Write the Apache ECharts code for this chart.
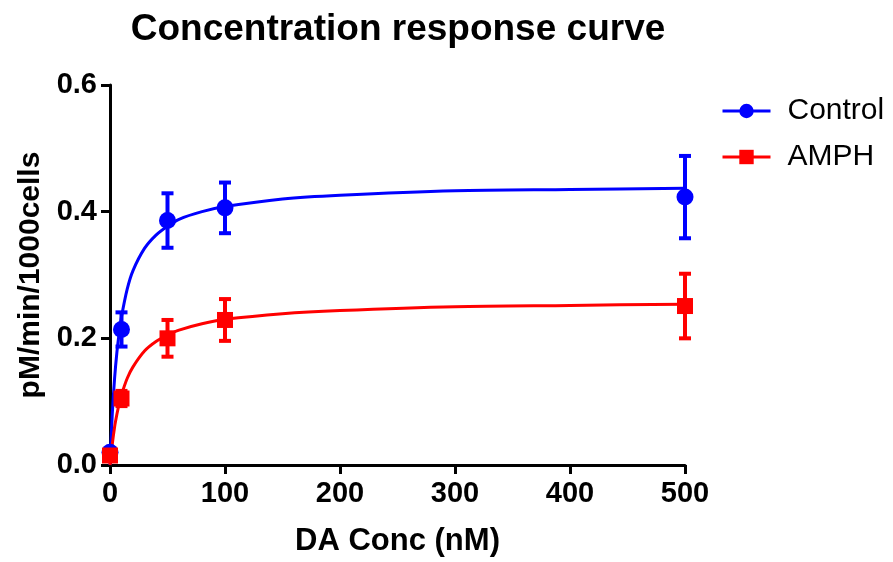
<!DOCTYPE html>
<html>
<head>
<meta charset="utf-8">
<script src="https://cdn.jsdelivr.net/npm/echarts@6/dist/echarts.min.js"></script>
<style>html,body{margin:0;padding:0;background:#fff}#c{width:893px;height:562px}</style>
</head>
<body>
<div id="c"></div>
<script>
// Measured points (DA concentration, nM)
var ctrlX = [0, 10, 50, 100, 500];
var ctrlY = [0.02, 0.214, 0.386, 0.406, 0.423];
var ctrlErr = [0.004, 0.027, 0.043, 0.040, 0.065];

var amphX = [0, 10, 50, 100, 500];
var amphY = [0.015, 0.105, 0.200, 0.229, 0.251];
var amphErr = [0.004, 0.012, 0.029, 0.033, 0.051];

// Fitted curves
var curveX = [0, 2, 4, 6, 8, 10, 15, 20, 30, 40, 50, 60, 80, 100, 150, 200, 300, 400, 500];
var ctrlCurve = [0.0, 0.081, 0.137, 0.178, 0.209, 0.234, 0.278, 0.307, 0.342, 0.363, 0.377, 0.388, 0.400, 0.408, 0.420, 0.426, 0.433, 0.435, 0.437];
var amphCurve = [0.0, 0.033, 0.060, 0.080, 0.097, 0.111, 0.137, 0.155, 0.180, 0.195, 0.205, 0.213, 0.223, 0.230, 0.239, 0.244, 0.250, 0.252, 0.254];

var xTicks = [0, 100, 200, 300, 400, 500];
var yTicks = [0.0, 0.2, 0.4, 0.6];

var BLUE = '#0000FF', RED = '#FF0000';
var FONT = '"Liberation Sans", Arial, sans-serif';

function pairs(xs, ys) { return xs.map(function (x, i) { return [x, ys[i]]; }); }
function errData(xs, ys, es) { return xs.map(function (x, i) { return [x, ys[i] - es[i], ys[i] + es[i]]; }); }

function errRender(color) {
  return function (params, api) {
    var x = api.value(0);
    var lo = api.coord([x, api.value(1)]);
    var hi = api.coord([x, api.value(2)]);
    var hw = 6;
    var st = { stroke: color, lineWidth: 4 };
    return {
      type: 'group',
      children: [
        { type: 'line', shape: { x1: lo[0], y1: lo[1], x2: hi[0], y2: hi[1] }, style: st },
        { type: 'line', shape: { x1: lo[0] - hw, y1: lo[1], x2: lo[0] + hw, y2: lo[1] }, style: st },
        { type: 'line', shape: { x1: hi[0] - hw, y1: hi[1], x2: hi[0] + hw, y2: hi[1] }, style: st }
      ]
    };
  };
}

var chart = echarts.init(document.getElementById('c'));
chart.setOption({
  animation: false,
  backgroundColor: '#fff',
  title: {
    text: 'Concentration response curve',
    left: 393, top: 6, textAlign: 'center',
    textStyle: { fontFamily: FONT, fontWeight: 'bold', fontSize: 37, color: '#000' }
  },
  legend: {
    orient: 'vertical', left: 716, top: 91,
    itemWidth: 48, itemHeight: 18, itemGap: 16,
    data: ['Control', 'AMPH'],
    lineStyle: { width: 3 },
    textStyle: { fontFamily: FONT, fontSize: 30, color: '#000', padding: [0, 0, 0, 12] }
  },
  grid: { left: 110, right: 208, top: 85, bottom: 94 },
  xAxis: {
    type: 'value', min: 0, max: 500, interval: 100,
    name: 'DA Conc (nM)', nameLocation: 'middle', nameGap: 61,
    nameTextStyle: { fontFamily: FONT, fontWeight: 'bold', fontSize: 31, color: '#000' },
    axisLine: { show: true, lineStyle: { color: '#000', width: 3 } },
    axisTick: { show: true, length: 9, lineStyle: { color: '#000', width: 3 } },
    axisLabel: { margin: 14, fontFamily: FONT, fontWeight: 'bold', fontSize: 29, color: '#000',
      formatter: function (v) { return xTicks.indexOf(v) >= 0 ? String(v) : ''; } },
    splitLine: { show: false }
  },
  yAxis: {
    type: 'value', min: 0, max: 0.6, interval: 0.2,
    name: 'pM/min/1000cells', nameLocation: 'middle', nameGap: 64,
    nameTextStyle: { fontFamily: FONT, fontWeight: 'bold', fontSize: 30, color: '#000' },
    axisLine: { show: true, lineStyle: { color: '#000', width: 3 } },
    axisTick: { show: true, length: 9, lineStyle: { color: '#000', width: 3 } },
    axisLabel: { margin: 13, fontFamily: FONT, fontWeight: 'bold', fontSize: 29, color: '#000',
      formatter: function (v) { return v.toFixed(1); } },
    splitLine: { show: false }
  },
  series: [
    { name: 'Control', type: 'line', data: pairs(curveX, ctrlCurve), smooth: 0.3,
      symbol: 'circle', symbolSize: 16, showSymbol: false,
      lineStyle: { color: BLUE, width: 3 }, itemStyle: { color: BLUE }, z: 3 },
    { name: 'AMPH', type: 'line', data: pairs(curveX, amphCurve), smooth: 0.3,
      symbol: 'rect', symbolSize: 16, showSymbol: false,
      lineStyle: { color: RED, width: 3 }, itemStyle: { color: RED }, z: 3 },
    { name: 'Control', type: 'custom', renderItem: errRender(BLUE),
      data: errData(ctrlX, ctrlY, ctrlErr), encode: { x: 0, y: [1, 2] }, z: 4 },
    { name: 'AMPH', type: 'custom', renderItem: errRender(RED),
      data: errData(amphX, amphY, amphErr), encode: { x: 0, y: [1, 2] }, z: 4 },
    { name: 'Control', type: 'scatter', data: pairs(ctrlX, ctrlY), symbol: 'circle', symbolSize: 17,
      itemStyle: { color: BLUE, opacity: 1 }, z: 5 },
    { name: 'AMPH', type: 'scatter', data: pairs(amphX, amphY), symbol: 'rect', symbolSize: 16,
      itemStyle: { color: RED, opacity: 1 }, z: 6 }
  ]
});
</script>
</body>
</html>
